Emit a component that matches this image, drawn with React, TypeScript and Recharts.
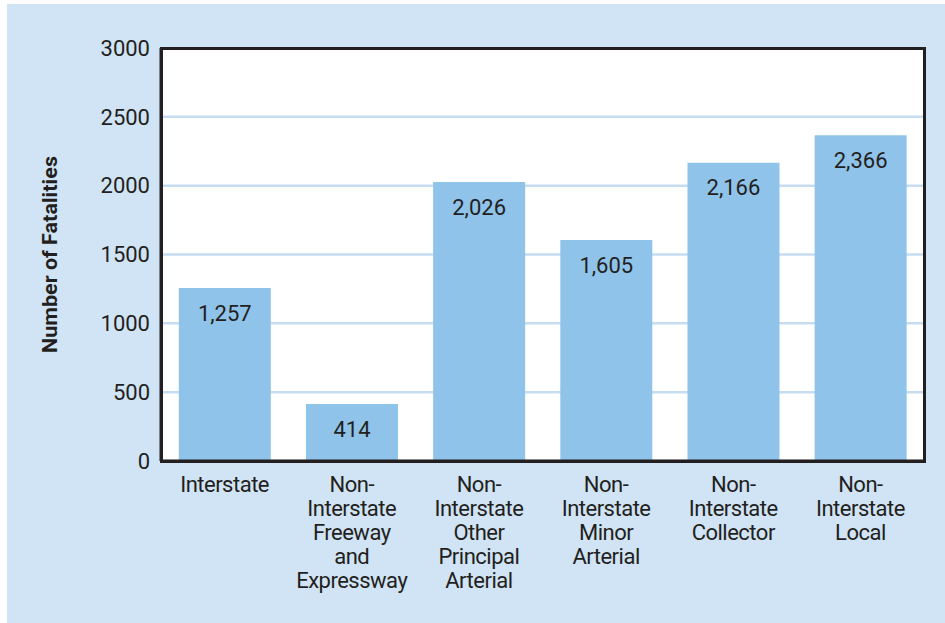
import React from 'react';
import { BarChart, Bar, XAxis, YAxis, CartesianGrid, LabelList } from 'recharts';

const categories: string[][] = [
  ['Interstate'],
  ['Non-', 'Interstate', 'Freeway', 'and', 'Expressway'],
  ['Non-', 'Interstate', 'Other', 'Principal', 'Arterial'],
  ['Non-', 'Interstate', 'Minor', 'Arterial'],
  ['Non-', 'Interstate', 'Collector'],
  ['Non-', 'Interstate', 'Local'],
];
const fatalities: number[] = [1257, 414, 2026, 1605, 2166, 2366];
const yTicks: number[] = [0, 500, 1000, 1500, 2000, 2500, 3000];
const yTitle = 'Number of Fatalities';

const data = categories.map((lines, i) => ({
  name: lines.join(' '),
  lines,
  value: fatalities[i],
}));

const FONT = 'Roboto, "Liberation Sans", sans-serif';
const TEXT = '#231f20';
const BG = '#d0e4f5';
const BAR = '#8fc3ea';
const GRID = '#c6ddf1';

const CategoryTick = (props: any) => {
  const { x, y, payload } = props;
  const item = data.find((d) => d.name === payload.value);
  const lines = item ? item.lines : [String(payload.value)];
  return (
    <g>
      {lines.map((l, i) => (
        <text
          key={i}
          x={x}
          y={y + 23 + i * 24}
          textAnchor="middle"
          fontFamily={FONT}
          fontSize={22}
          letterSpacing={-0.5}
          fill={TEXT}
        >
          {l}
        </text>
      ))}
    </g>
  );
};

const YTitle = (props: any) => {
  const vb = props.viewBox || {};
  const cy = (vb.y || 0) + (vb.height || 0) / 2;
  const cx = 50;
  return (
    <text
      x={cx}
      y={cy}
      transform={`rotate(-90, ${cx}, ${cy})`}
      textAnchor="middle"
      dominantBaseline="central"
      fontFamily={FONT}
      fontWeight="bold"
      fontSize={21}
      textLength={197}
      lengthAdjust="spacingAndGlyphs"
      fill={TEXT}
    >
      {yTitle}
    </text>
  );
};

const fmt = (v: any) => Number(v).toLocaleString('en-US');

export default function App() {
  return (
    <div style={{ position: 'absolute', left: 0, top: 0, width: 945, height: 623, background: '#ffffff', overflow: 'hidden' }}>
      <div style={{ position: 'absolute', left: 7, top: 4, right: 0, bottom: 0, background: BG }} />
      <div style={{ position: 'absolute', left: 0, top: 0 }}>
        <BarChart
          width={945}
          height={623}
          data={data}
          margin={{ top: 48, right: 21, bottom: 0, left: 0 }}
          barCategoryGap="14%"
        >
          <CartesianGrid vertical={false} stroke={GRID} strokeWidth={2.5} fill="#ffffff" />
          <XAxis
            dataKey="name"
            height={162}
            interval={0}
            tick={<CategoryTick />}
            tickLine={false}
            axisLine={{ stroke: TEXT, strokeWidth: 3 }}
          />
          <YAxis
            width={161}
            domain={[0, 3000]}
            ticks={yTicks}
            tickLine={false}
            tickSize={0}
            tickMargin={11}
            axisLine={{ stroke: TEXT, strokeWidth: 3 }}
            tick={{ fontFamily: FONT, fontSize: 22, fill: TEXT }}
            label={<YTitle />}
          />
          <Bar dataKey="value" fill={BAR} isAnimationActive={false}>
            <LabelList
              dataKey="value"
              position="insideTop"
              offset={17}
              formatter={fmt}
              style={{ fontFamily: FONT, fontSize: 22, fill: TEXT }}
            />
          </Bar>
        </BarChart>
      </div>
      <div
        style={{
          position: 'absolute',
          left: 159.5,
          top: 46.5,
          width: 766,
          height: 416,
          boxSizing: 'border-box',
          border: `3px solid ${TEXT}`,
          pointerEvents: 'none',
        }}
      />
    </div>
  );
}
